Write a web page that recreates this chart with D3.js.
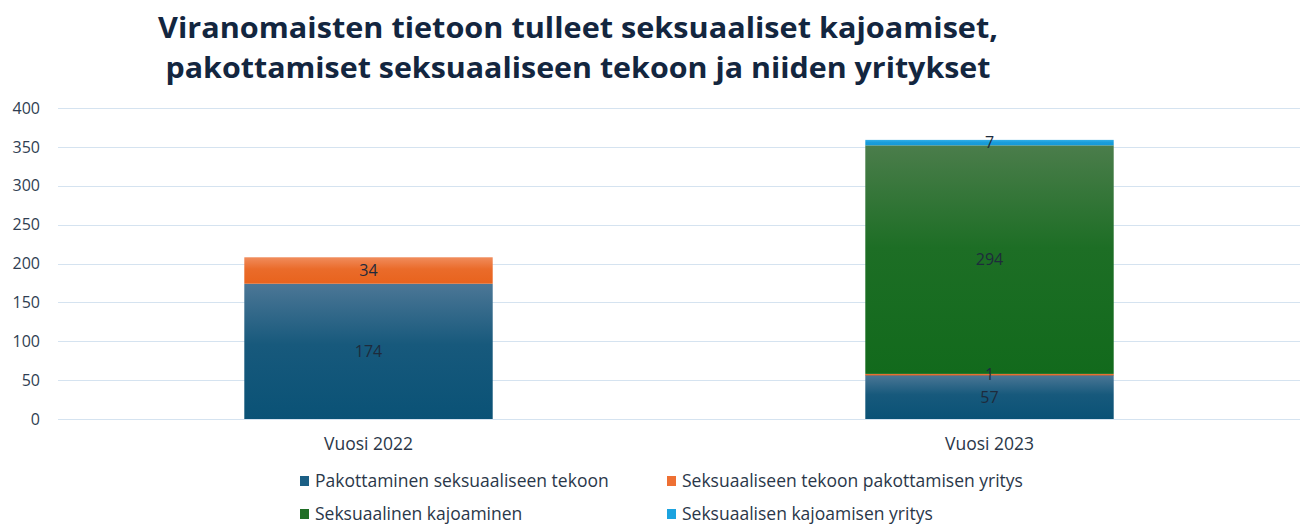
<!DOCTYPE html>
<html>
<head>
<meta charset="utf-8">
<style>
  body { margin: 0; background: #fff; }
  text { font-family: "Open Sans", Roboto, sans-serif; }
</style>
</head>
<body>
<svg></svg>
<script src="https://d3js.org/d3.v7.min.js"></script>
<script>
    const width = 1309;
    const height = 525;

    const titleLines = [
        "Viranomaisten tietoon tulleet seksuaaliset kajoamiset,",
        "pakottamiset seksuaaliseen tekoon ja niiden yritykset"
    ];
    const years = ["Vuosi 2022", "Vuosi 2023"];
    const seriesNames = [
        "Pakottaminen seksuaaliseen tekoon",
        "Seksuaaliseen tekoon pakottamisen yritys",
        "Seksuaalinen kajoaminen",
        "Seksuaalisen kajoamisen yritys"
    ];
    const pakottaminen = [174, 57];
    const pakottamisenYritys = [34, 1];
    const kajoaminen = [0, 294];
    const kajoamisenYritys = [0, 7];
    const yTicks = [0, 50, 100, 150, 200, 250, 300, 350, 400];

    // top / bottom gradient colours for each series
    const colors = [
        ["#4c7796", "#0a5276"],
        ["#f08c5c", "#e8631d"],
        ["#4b7d4b", "#126a1c"],
        ["#34b0e6", "#1499d8"]
    ];
    const swatch = ["#1b5f85", "#ee7033", "#1f6e25", "#1ca3df"];

    const svg = d3.select("svg").attr("width", width).attr("height", height);
    const margin = { left: 58, right: 9, top: 108, bottom: 106 };

    const x = d3.scaleBand()
        .domain(years)
        .range([margin.left, width - margin.right])
        .paddingInner(0.6)
        .paddingOuter(0.3);
    const y = d3.scaleLinear()
        .domain([0, 400])
        .range([height - margin.bottom, margin.top]);

    const defs = svg.append("defs");
    colors.forEach((c, i) => {
        const g = defs.append("linearGradient")
            .attr("id", "grad" + i)
            .attr("x1", 0).attr("y1", 0).attr("x2", 0).attr("y2", 1);
        g.append("stop").attr("offset", "0%").attr("stop-color", c[0]);
        g.append("stop").attr("offset", "45%").attr("stop-color", d3.interpolateRgb(c[0], c[1])(0.8));
        g.append("stop").attr("offset", "100%").attr("stop-color", c[1]);
    });

    // title (stretched to the width of the original wide font)
    const titleWidths = [840, 825];
    svg.append("g").selectAll("text")
        .data(titleLines)
        .join("text")
        .attr("x", 578)
        .attr("y", (d, i) => 38 + i * 40)
        .attr("text-anchor", "middle")
        .attr("font-size", 29)
        .attr("font-weight", "bold")
        .attr("fill", "#13263f")
        .attr("textLength", (d, i) => titleWidths[i])
        .attr("lengthAdjust", "spacingAndGlyphs")
        .text(d => d);

    // grid
    svg.append("g").selectAll("line")
        .data(yTicks)
        .join("line")
        .attr("x1", margin.left).attr("x2", width - margin.right)
        .attr("y1", d => Math.round(y(d)) + 0.5).attr("y2", d => Math.round(y(d)) + 0.5)
        .attr("stroke", "#d5e3f0")
        .attr("stroke-width", 1);

    // y axis labels
    const yAxis = svg.append("g")
        .attr("transform", `translate(${margin.left},0)`)
        .call(d3.axisLeft(y).tickValues(yTicks).tickSize(0).tickPadding(18));
    yAxis.select(".domain").remove();
    yAxis.selectAll("text")
        .attr("font-size", 16)
        .attr("font-family", "Roboto, sans-serif")
        .attr("fill", "#2f3e52");

    // stacked bars
    const table = years.map((yr, i) => ({
        year: yr,
        s0: pakottaminen[i],
        s1: pakottamisenYritys[i],
        s2: kajoaminen[i],
        s3: kajoamisenYritys[i]
    }));
    const stack = d3.stack().keys(["s0", "s1", "s2", "s3"])(table);

    const layers = svg.append("g").selectAll("g")
        .data(stack)
        .join("g")
        .attr("fill", (d, i) => `url(#grad${i})`);

    layers.selectAll("rect")
        .data(d => d.filter(p => p[1] - p[0] > 0))
        .join("rect")
        .attr("x", d => x(d.data.year))
        .attr("width", x.bandwidth())
        .attr("y", d => y(d[1]))
        .attr("height", d => Math.max(y(d[0]) - y(d[1]), 1.5));

    // data labels
    svg.append("g").selectAll("g")
        .data(stack)
        .join("g")
        .selectAll("text")
        .data(d => d.filter(p => p[1] - p[0] > 0))
        .join("text")
        .attr("x", d => x(d.data.year) + x.bandwidth() / 2)
        .attr("y", d => (y(d[0]) + y(d[1])) / 2)
        .attr("dy", "0.36em")
        .attr("text-anchor", "middle")
        .attr("font-size", 16)
        .attr("font-family", "Roboto, sans-serif")
        .attr("fill", "#1e2b3c")
        .text(d => d[1] - d[0]);

    // category labels
    svg.append("g").selectAll("text")
        .data(years)
        .join("text")
        .attr("x", d => x(d) + x.bandwidth() / 2)
        .attr("y", 450)
        .attr("text-anchor", "middle")
        .attr("font-size", 17.5)
        .attr("fill", "#2a3749")
        .text(d => d);

    // legend
    const legend = svg.append("g").selectAll("g")
        .data(seriesNames)
        .join("g")
        .attr("transform", (d, i) => `translate(${i % 2 === 0 ? 300 : 667},${i < 2 ? 481 : 514})`);
    legend.append("rect")
        .attr("x", 0).attr("y", -5)
        .attr("width", 9).attr("height", 10)
        .attr("fill", (d, i) => swatch[i]);
    legend.append("text")
        .attr("x", 15)
        .attr("dy", "0.36em")
        .attr("font-size", 17.5)
        .attr("fill", "#2a3749")
        .text(d => d);
</script>
</body>
</html>
